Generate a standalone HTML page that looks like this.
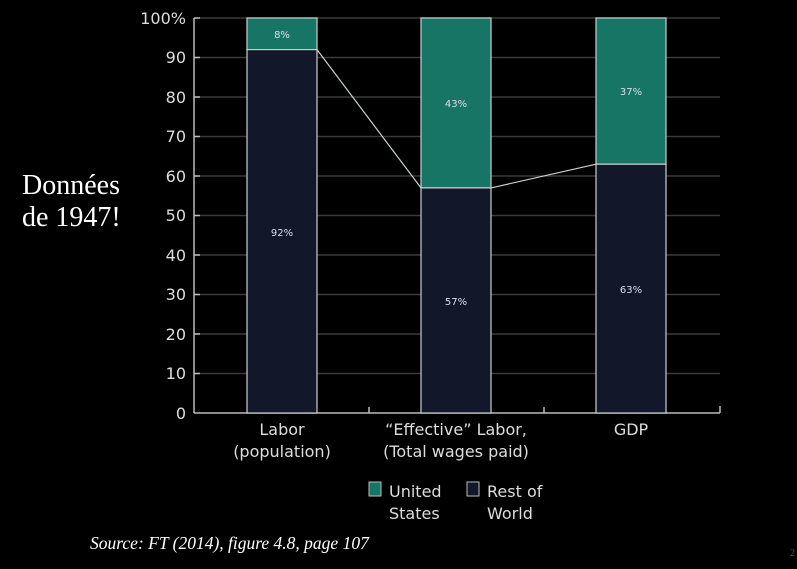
<!DOCTYPE html>
<html><head><meta charset="utf-8"><style>
body{margin:0;background:#000;width:797px;height:569px;overflow:hidden}
svg{display:block}
</style></head><body>
<svg width="797" height="569" xmlns="http://www.w3.org/2000/svg">
<rect width="797" height="569" fill="#000"/>
<g stroke="#3a3a3a" stroke-width="1.5">
<line x1="195" x2="720" y1="18" y2="18"/><line x1="195" x2="720" y1="57.5" y2="57.5"/>
<line x1="195" x2="720" y1="97" y2="97"/><line x1="195" x2="720" y1="136.5" y2="136.5"/>
<line x1="195" x2="720" y1="176" y2="176"/><line x1="195" x2="720" y1="215.5" y2="215.5"/>
<line x1="195" x2="720" y1="255" y2="255"/><line x1="195" x2="720" y1="294.5" y2="294.5"/>
<line x1="195" x2="720" y1="334" y2="334"/><line x1="195" x2="720" y1="373.5" y2="373.5"/>
</g>
<g stroke="#bbb" stroke-width="1.5" fill="none">
<line x1="194" x2="194" y1="18" y2="413"/>
<line x1="194" x2="720" y1="413" y2="413"/>
<line x1="720" x2="720" y1="406" y2="413"/>
<line x1="369" x2="369" y1="407" y2="413"/>
<line x1="544" x2="544" y1="407" y2="413"/>
<g>
<line x1="194" x2="200" y1="18" y2="18"/><line x1="194" x2="200" y1="57.5" y2="57.5"/>
<line x1="194" x2="200" y1="97" y2="97"/><line x1="194" x2="200" y1="136.5" y2="136.5"/>
<line x1="194" x2="200" y1="176" y2="176"/><line x1="194" x2="200" y1="215.5" y2="215.5"/>
<line x1="194" x2="200" y1="255" y2="255"/><line x1="194" x2="200" y1="294.5" y2="294.5"/>
<line x1="194" x2="200" y1="334" y2="334"/><line x1="194" x2="200" y1="373.5" y2="373.5"/>
</g>
</g>
<g stroke="#c8d0d0" stroke-width="1.2">
<rect x="247" y="18" width="70" height="31.6" fill="#167565"/>
<rect x="247" y="49.6" width="70" height="363.4" fill="#12172a"/>
<rect x="421" y="18" width="70" height="169.9" fill="#167565"/>
<rect x="421" y="187.9" width="70" height="225.1" fill="#12172a"/>
<rect x="596" y="18" width="70" height="146.2" fill="#167565"/>
<rect x="596" y="164.2" width="70" height="248.8" fill="#12172a"/>
<polyline points="317,49.6 421,187.9" fill="none"/>
<polyline points="491,187.9 596,164.2" fill="none"/>
</g>
<g font-family="DejaVu Sans, sans-serif" font-size="10" fill="#dde" text-anchor="middle">
<text x="282" y="38">8%</text><text x="282" y="236">92%</text>
<text x="456" y="107">43%</text><text x="456" y="305">57%</text>
<text x="631" y="95">37%</text><text x="631" y="293">63%</text>
</g>
<g font-family="DejaVu Sans, sans-serif" font-size="16" fill="#ddd" text-anchor="end">
<text x="186" y="24">100%</text><text x="186" y="63">90</text><text x="186" y="103">80</text>
<text x="186" y="142">70</text><text x="186" y="182">60</text><text x="186" y="221">50</text>
<text x="186" y="261">40</text><text x="186" y="300">30</text><text x="186" y="340">20</text>
<text x="186" y="379">10</text><text x="186" y="419">0</text>
</g>
<g font-family="DejaVu Sans, sans-serif" font-size="16" fill="#ddd" text-anchor="middle">
<text x="282" y="435">Labor</text><text x="282" y="457">(population)</text>
<text x="456" y="435">“Effective” Labor,</text><text x="456" y="457">(Total wages paid)</text>
<text x="631" y="435">GDP</text>
</g>
<g font-family="DejaVu Sans, sans-serif" font-size="16" fill="#ddd">
<rect x="369" y="482" width="12" height="14" fill="#167565" stroke="#bbb"/>
<text x="389" y="497">United</text><text x="389" y="519">States</text>
<rect x="467" y="482" width="12" height="14" fill="#12172a" stroke="#bbb"/>
<text x="487" y="497">Rest of</text><text x="487" y="519">World</text>
</g>
<g font-family="Liberation Serif, serif" fill="#fff">
<text x="22" y="194" font-size="28">Données</text>
<text x="22" y="226" font-size="28">de 1947!</text>
<text x="90" y="549" font-size="17.5" font-style="italic">Source: FT (2014), figure 4.8,  page 107</text>
<text x="790" y="556" font-size="10" fill="#555">2</text>
</g>
</svg>
</body></html>
